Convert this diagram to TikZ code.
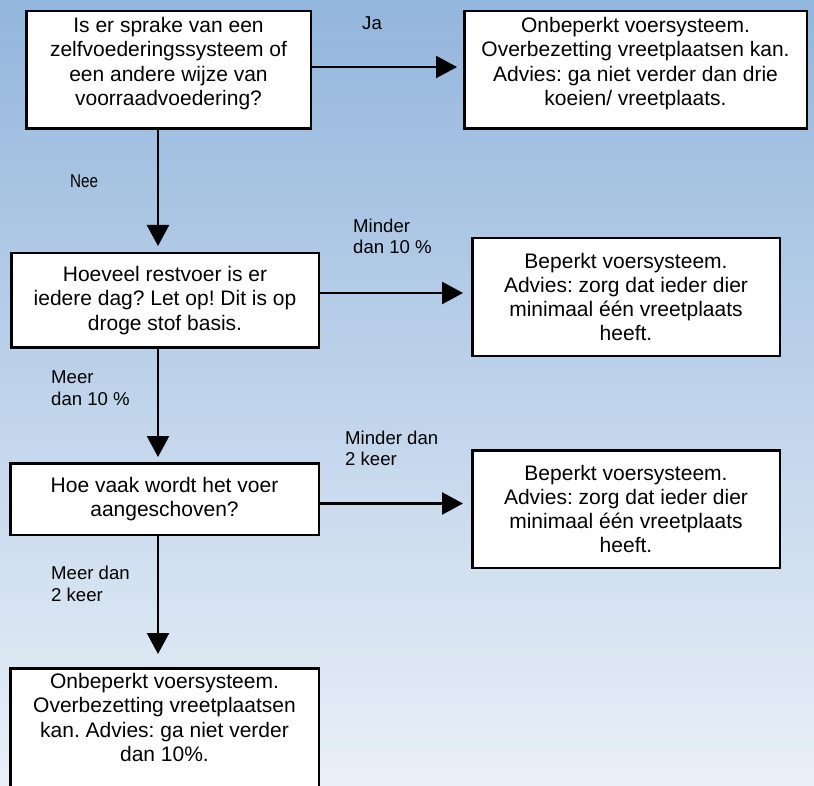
\documentclass[tikz,border=0pt]{standalone}
\usepackage{fontspec}
\usepackage{graphicx}
\setmainfont{Liberation Sans}
\usetikzlibrary{arrows.meta}
\definecolor{bgtop}{RGB}{147,182,220}
\definecolor{bgbot}{RGB}{234,240,248}
\frenchspacing
% #1 width, #2 height, #3 inner position, #4 top space, #5 text
\newcommand\boxtxt[5]{\parbox[c][#2pt][#3]{#1pt}{\vspace*{#4pt}\centering #5\par}}
\tikzset{
  flowbox/.style={draw=black, line width=2.5pt, fill=white, inner sep=0pt, rectangle,
    font=\fontsize{21}{24.3}\selectfont},
  lbl/.style={inner sep=0pt, anchor=west, align=left,
    font=\fontsize{18.6}{21.4}\selectfont},
  arr/.style={line width=2.5pt, -{Triangle[length=21pt,width=22pt]}},
}
\begin{document}
\begin{tikzpicture}[x=1pt, y=-1pt]
\useasboundingbox (0,0) rectangle (814,786);
\clip (0,0) rectangle (814,786);
\shade[top color=bgtop, bottom color=bgbot] (0,0) rectangle (814,786);

\node[flowbox] (b1) at (168.5,70) {\boxtxt{284.5}{117.5}{t}{6}{Is er sprake van een\\zelfvoederingssysteem of\\een andere wijze van\\voorraadvoedering?}};
\node[flowbox] (b2) at (635.5,70) {\boxtxt{342.5}{117.5}{t}{6}{Onbeperkt voersysteem.\\Overbezetting vreetplaatsen kan.\\Advies: ga niet verder dan drie\\koeien/ vreetplaats.}};
\node[flowbox] (b3) at (165,300.5) {\boxtxt{307.5}{94.5}{c}{0}{Hoeveel restvoer is er\\iedere dag? Let op! Dit is op\\droge stof basis.}};
\node[flowbox] (b4) at (626,297) {\boxtxt{307.5}{117.5}{c}{0}{Beperkt voersysteem.\\Advies: zorg dat ieder dier\\minimaal één vreetplaats\\heeft.}};
\node[flowbox] (b5) at (164.5,499) {\boxtxt{308.5}{71.5}{c}{0}{Hoe vaak wordt het voer\\aangeschoven?}};
\node[flowbox] (b6) at (626,509) {\boxtxt{307.5}{117.5}{c}{0}{Beperkt voersysteem.\\Advies: zorg dat ieder dier\\minimaal één vreetplaats\\heeft.}};
\node[flowbox] (b7) at (164.5,733.5) {\boxtxt{308.5}{130.5}{t}{5}{Onbeperkt voersysteem.\\Overbezetting vreetplaatsen\\kan. Advies: ga niet verder\\dan 10\%.}};

\coordinate (vx) at (158,0);
\coordinate (h1) at (0,67);
\coordinate (h2) at (0,293);
\coordinate (h3) at (0,503.5);

\draw[arr, shorten >=6pt] (b1.east |- h1) -- (b2.west |- h1);
\draw[arr, shorten >=6pt] (b1.south -| vx) -- (b3.north -| vx);
\draw[arr, shorten >=8pt] (b3.east |- h2) -- (b4.west |- h2);
\draw[arr, shorten >=5pt] (b3.south -| vx) -- (b5.north -| vx);
\draw[arr, shorten >=8pt] (b5.east |- h3) -- (b6.west |- h3);
\draw[arr, shorten >=13pt] (b5.south -| vx) -- (b7.north -| vx);

\node[lbl] (lja) at (362,23) {Ja};
\node[lbl] (lnee) at (70,181) {\scalebox{0.82}[1]{Nee}};
\node[lbl] (lm1) at (353,236.5) {Minder\\dan 10 \%};
\node[lbl] (lm2) at (51,388) {Meer\\dan 10 \%};
\node[lbl] (lm3) at (345,448.5) {Minder dan\\2 keer};
\node[lbl] (lm4) at (51,584) {Meer dan\\2 keer};
\end{tikzpicture}
\end{document}
